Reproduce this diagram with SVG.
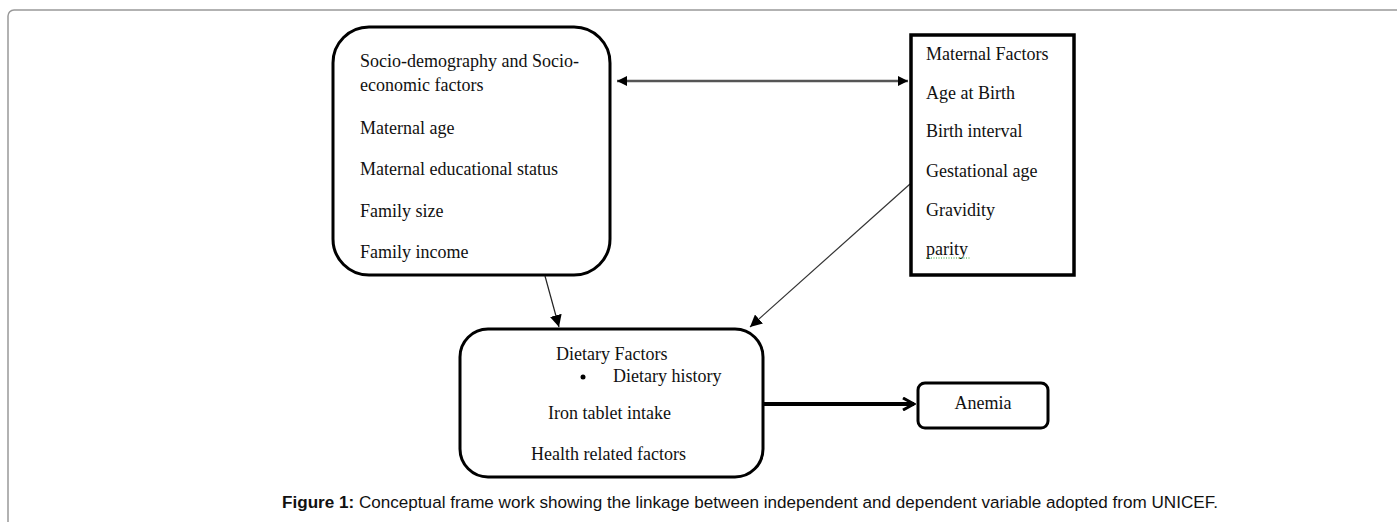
<svg xmlns="http://www.w3.org/2000/svg" width="1397" height="522" viewBox="0 0 1397 522">
<style>
.t{font-family:"Liberation Serif","Times New Roman",serif;font-size:18px;fill:#111}
.box{fill:#fff;stroke:#000;stroke-width:3}
.cap{font-family:"Liberation Sans",Arial,sans-serif;font-size:17.1px;fill:#111}
</style>
<defs>
<marker id="ah" viewBox="0 0 10 10" refX="10" refY="5" markerWidth="10" markerHeight="10" markerUnits="userSpaceOnUse" orient="auto-start-reverse"><path d="M0,0 L10,5 L0,10 z" fill="#000"/></marker>
<marker id="ah2" viewBox="0 0 14 14" refX="12" refY="7" markerWidth="14" markerHeight="14" markerUnits="userSpaceOnUse" orient="auto"><path d="M1,1 L12,7 L1,13" fill="none" stroke="#000" stroke-width="3"/></marker>
<marker id="ah3" viewBox="0 0 12 12" refX="12" refY="6" markerWidth="12" markerHeight="12" markerUnits="userSpaceOnUse" orient="auto"><path d="M0,0 L12,6 L0,12 z" fill="#000"/></marker>
</defs>
<rect x="8" y="10" width="1400" height="520" rx="6" fill="#fff" stroke="#999" stroke-width="1.5"/>
<g id="connectors">
<line x1="617" y1="81" x2="908" y2="81" stroke="#555" stroke-width="2.5" marker-start="url(#ah)" marker-end="url(#ah)"/>
<line x1="545" y1="276" x2="559" y2="327" stroke="#222" stroke-width="1.2" marker-end="url(#ah3)"/>
<line x1="910" y1="184" x2="750" y2="327" stroke="#333" stroke-width="1.2" marker-end="url(#ah3)"/>
<line x1="764" y1="404" x2="914" y2="404" stroke="#000" stroke-width="4" marker-end="url(#ah2)"/>
</g>
<g id="socio">
<rect class="box" x="333" y="27" width="277" height="248" rx="36"/>
<text class="t" x="360" y="67">Socio-demography and Socio-</text>
<text class="t" x="360" y="91">economic factors</text>
<text class="t" x="360" y="134">Maternal age</text>
<text class="t" x="360" y="175">Maternal educational status</text>
<text class="t" x="360" y="217">Family size</text>
<text class="t" x="360" y="258">Family income</text>
</g>
<g id="maternal">
<rect x="911" y="35" width="163" height="240" fill="#fff" stroke="#000" stroke-width="3.5"/>
<text class="t" x="926" y="60">Maternal Factors</text>
<text class="t" x="926" y="99">Age  at Birth</text>
<text class="t" x="926" y="137">Birth interval</text>
<text class="t" x="926" y="177">Gestational age</text>
<text class="t" x="926" y="216">Gravidity</text>
<text class="t" x="926" y="255">parity</text>
<path d="M926,258 L970,258" stroke="#3a3" stroke-width="1" stroke-dasharray="1,1.5"/>
</g>
<g id="dietary">
<rect class="box" x="460" y="329" width="303" height="148" rx="28"/>
<text class="t" x="556" y="360">Dietary Factors</text>
<circle cx="583" cy="377" r="2.5" fill="#000"/>
<text class="t" x="613" y="382">Dietary history</text>
<text class="t" x="548" y="419">Iron tablet intake</text>
<text class="t" x="531" y="460">Health related factors</text>
</g>
<g id="anemia">
<rect class="box" x="918" y="383" width="130" height="45" rx="7"/>
<text class="t" x="983" y="409" text-anchor="middle">Anemia</text>
</g>
<text class="cap" x="750" y="508" text-anchor="middle"><tspan font-weight="bold">Figure 1:</tspan> Conceptual frame work showing the linkage between independent and dependent variable adopted from UNICEF.</text>
</svg>
